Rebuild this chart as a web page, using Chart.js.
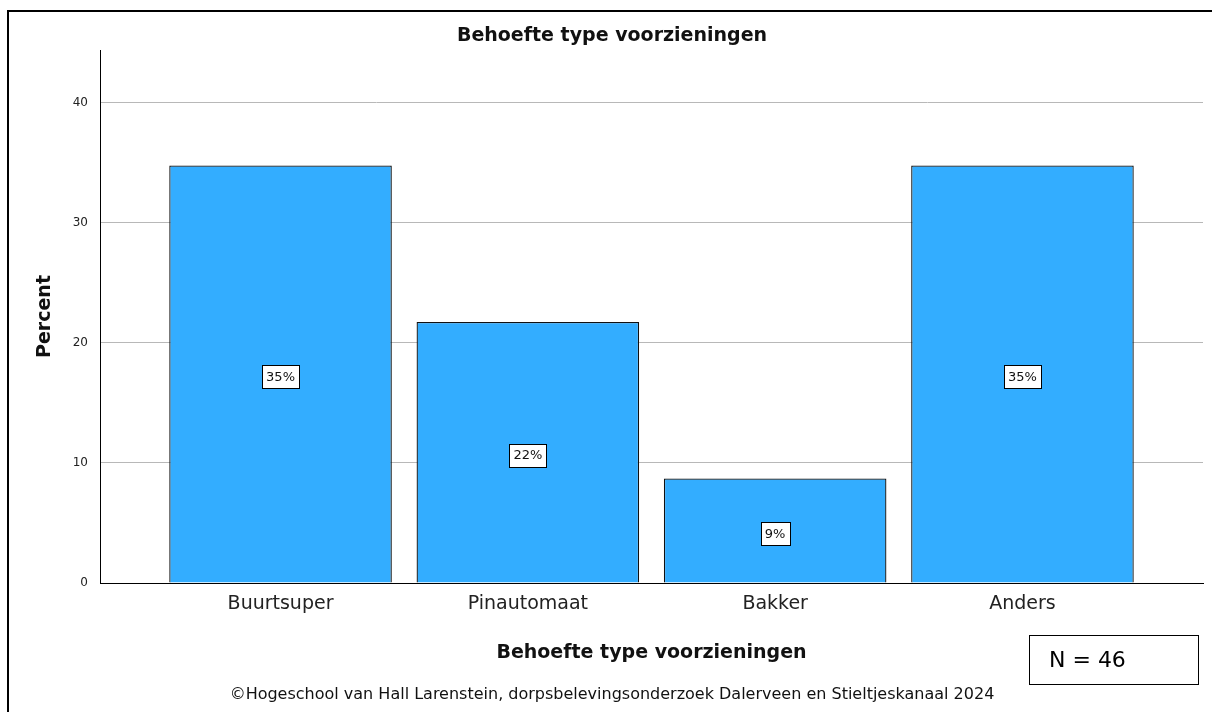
<!DOCTYPE html>
<html>
<head>
<meta charset="utf-8">
<script src="https://cdn.jsdelivr.net/npm/chart.js@4.4.0/dist/chart.umd.min.js"></script>
<style>
    body { margin: 0; background: #fff; font-family: "DejaVu Sans", sans-serif; }
    #wrap { position: relative; width: 1212px; height: 712px; overflow: hidden; }
    #frame { position: absolute; left: 7px; top: 10px; width: 1300px; height: 800px; border-left: 2px solid #000; border-top: 2px solid #000; }
    #title { position: absolute; left: 10px; width: 1204px; top: 23px; text-align: center; font-weight: bold; font-size: 19px; color: #111; }
    #footer { position: absolute; left: 10px; width: 1204px; top: 684px; text-align: center; font-size: 16px; color: #111; }
    #nbox { position: absolute; left: 1029px; top: 635px; width: 170px; height: 50px; border: 1px solid #000; font-size: 22px; line-height: 48px; padding-left: 19px; box-sizing: border-box; color: #000; }
    canvas { position: absolute; left: 0; top: 0; }
</style>
</head>
<body>
<div id="wrap">
    <canvas id="chart" width="1212" height="712"></canvas>
    <div id="frame"></div>
    <div id="title">Behoefte type voorzieningen</div>
    <div id="footer">©Hogeschool van Hall Larenstein, dorpsbelevingsonderzoek Dalerveen en Stieltjeskanaal 2024</div>
    <div id="nbox">N = 46</div>
</div>
<script>
const categories = ['Buurtsuper', 'Pinautomaat', 'Bakker', 'Anders'];
const percents = [34.78, 21.74, 8.70, 34.78];
const pointLabels = ['35%', '22%', '9%', '35%'];
const yTicks = [0, 10, 20, 30, 40];

const FONT = '"DejaVu Sans", sans-serif';

// white boxed labels in the middle of each bar
const boxLabels = {
    id: 'boxLabels',
    afterDatasetsDraw(chart) {
        const ctx = chart.ctx;
        const meta = chart.getDatasetMeta(0);
        const yScale = chart.scales.y;
        ctx.save();
        ctx.font = '13px ' + FONT;
        ctx.textAlign = 'center';
        ctx.textBaseline = 'middle';
        meta.data.forEach((bar, i) => {
            const cy = yScale.getPixelForValue(percents[i] / 2) + 2.5;
            const w = Math.round(ctx.measureText(pointLabels[i]).width) + 8;
            const h = 23;
            const x0 = Math.round(bar.x - w / 2) + 0.5;
            const y0 = Math.round(cy - h / 2) + 0.5;
            ctx.fillStyle = '#fff';
            ctx.fillRect(x0, y0, w, h);
            ctx.strokeStyle = '#000';
            ctx.lineWidth = 1;
            ctx.strokeRect(x0, y0, w, h);
            ctx.fillStyle = '#111';
            ctx.fillText(pointLabels[i], bar.x, cy + 1);
        });
        ctx.restore();
    }
};

const chart = new Chart(document.getElementById('chart').getContext('2d'), {
    type: 'bar',
    data: {
        datasets: [{
            data: percents.map((v, i) => ({ x: i, y: v })),
            backgroundColor: '#33adff',
            borderColor: '#111',
            borderWidth: 1.3,
            categoryPercentage: 1,
            barPercentage: 0.9
        }]
    },
    options: {
        responsive: false,
        animation: false,
        layout: { padding: { left: 8, top: 50, right: 9, bottom: 0 } },
        plugins: {
            legend: { display: false },
            tooltip: { enabled: false }
        },
        scales: {
            x: {
                type: 'linear',
                offset: false,
                min: -0.73,
                max: 3.73,
                afterFit(scale) { scale.height = 129; },
                afterBuildTicks(scale) { scale.ticks = categories.map((c, i) => ({ value: i })); },
                grid: { display: false, drawTicks: false },
                border: { display: true, color: '#000', width: 1 },
                ticks: {
                    padding: 10,
                    color: '#222',
                    font: { family: FONT, size: 19 },
                    callback: v => categories[v]
                },
                title: {
                    display: true,
                    text: 'Behoefte type voorzieningen',
                    color: '#111',
                    font: { family: FONT, size: 19, weight: 'bold' },
                    padding: { top: 0, bottom: 48 }
                }
            },
            y: {
                min: 0,
                max: 44.4,
                afterFit(scale) { scale.width = 92; },
                afterBuildTicks(scale) { scale.ticks = yTicks.map(v => ({ value: v })); },
                grid: {
                    drawTicks: false,
                    color: ctx => ctx.tick && ctx.tick.value === 0 ? '#000' : '#b8b8b8',
                    lineWidth: 1
                },
                border: { display: true, color: '#000', width: 1 },
                ticks: {
                    padding: 12,
                    color: '#222',
                    font: { family: FONT, size: 12 }
                },
                title: {
                    display: true,
                    text: 'Percent',
                    color: '#111',
                    font: { family: FONT, size: 19, weight: 'bold' },
                    padding: { top: 26, bottom: 0 }
                }
            }
        }
    },
    plugins: [boxLabels]
});
</script>
</body>
</html>
